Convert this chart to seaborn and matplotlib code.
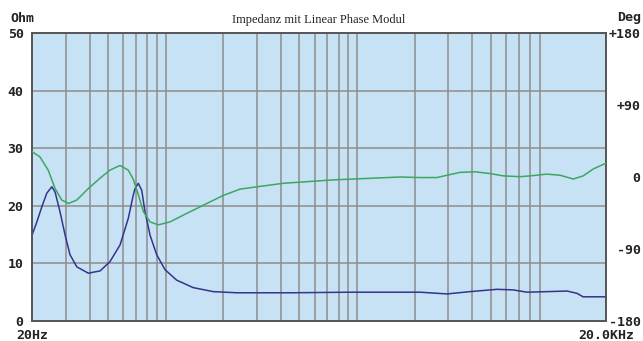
import numpy as np
import pandas as pd
import matplotlib
matplotlib.use("Agg")
import matplotlib.pyplot as plt
from matplotlib.ticker import NullFormatter
import seaborn as sns

# Impedance (Ohm) vs frequency (Hz)
imp_freq = [20, 21.2, 22.5, 23.9, 25.4, 26.4, 28.0, 29.8, 31.6, 34.3, 39.4, 45.4, 51.1,
            57.7, 63.7, 67.7, 69.1, 71.9, 74.9, 77.9, 82.8, 89.7, 99.2, 114, 139, 177,
            235, 450, 920, 1700, 2134, 2953, 3896, 5394, 6536, 7740, 12520, 14120,
            15170, 20000]
imp_ohm = [14.9, 17.2, 19.8, 22.2, 23.3, 22.4, 19.0, 14.9, 11.5, 9.4, 8.3, 8.7, 10.3,
           13.2, 17.8, 21.9, 23.0, 23.9, 22.7, 19.0, 14.9, 11.5, 8.9, 7.1, 5.8, 5.1,
           4.9, 4.9, 5.0, 5.0, 5.0, 4.7, 5.1, 5.5, 5.4, 5.0, 5.2, 4.8, 4.2, 4.2]

# Phase (Deg) vs frequency (Hz)
ph_freq = [20, 22.0, 24.3, 26.4, 28.6, 31.0, 34.3, 39.4, 45.4, 51.1, 57.7, 63.7, 67.7,
           71.9, 76.4, 82.8, 91.4, 105, 129, 157, 200, 245, 410, 750, 1680, 2134,
           2610, 2953, 3454, 4140, 4955, 5816, 7112, 8020, 9808, 11510, 13510, 15200,
           17180, 20000]
ph_deg = [31.7, 25.2, 8.6, -14.4, -28.8, -33.1, -28.8, -14.4, -1.4, 8.6, 14.4, 8.6, -2.9,
          -22.3, -43.2, -56.2, -59.8, -56.2, -45.4, -35.3, -23.0, -15.1, -7.9, -3.6, 0.0,
          -0.7, -0.7, 2.2, 5.8, 6.5, 4.3, 1.4, 0.4, 1.4, 3.6, 2.2, -2.5, 1.4, 10.1, 17.3]

title = "Impedanz mit Linear Phase Modul"
left_ticks = [0, 10, 20, 30, 40, 50]
right_ticks = [-180, -90, 0, 90, 180]
right_labels = ["-180", "-90", "0", "+90", "+180"]
x_ticks = [20, 20000]
x_labels = ["20Hz", "20.0KHz"]

df_imp = pd.DataFrame({"freq": imp_freq, "ohm": imp_ohm})
df_ph = pd.DataFrame({"freq": ph_freq, "deg": ph_deg})

W, H = 643, 341
fig = plt.figure(figsize=(W / 100, H / 100), dpi=100)
ax = fig.add_axes([32 / W, 20 / H, 574 / W, 288 / H])
bg = "#c8e2f5"
ax.set_facecolor(bg)

blue = "#34348c"
green = "#3aa860"
txt = "#222222"
mono = dict(family="DejaVu Sans Mono", weight="bold", size=9.5)

sns.lineplot(data=df_imp, x="freq", y="ohm", ax=ax, color=blue, lw=1.1, zorder=3)
ax.set_xscale("log")
ax.set_xlim(20, 20000)
ax.set_ylim(0, 50)

ax2 = ax.twinx()
sns.lineplot(data=df_ph, x="freq", y="deg", ax=ax2, color=green, lw=1.1, zorder=3)
ax2.set_ylim(-180, 180)
ax2.set_xlim(20, 20000)
ax2.xaxis.set_visible(False)

# grid
grid_x = [m * 10 ** e for e in (1, 2, 3) for m in range(1, 10) if 20 < m * 10 ** e < 20000]
ax.set_xticks(grid_x, minor=True)
ax.xaxis.set_minor_formatter(NullFormatter())
ax.set_xticks(x_ticks)
ax.set_xticklabels(x_labels, fontdict=mono, color=txt)
ax.set_yticks(left_ticks)
ax.set_yticklabels([str(t) for t in left_ticks], fontdict=mono, color=txt)
ax.grid(True, which="both", axis="x", color="#8c8c8c", lw=1.1)
ax.grid(True, which="major", axis="y", color="#8c8c8c", lw=1.1)
ax.set_axisbelow(True)
ax.tick_params(axis="both", which="both", length=0)
ax.tick_params(axis="y", pad=6)
ax.tick_params(axis="x", pad=6)
ax.set_xlabel("")
ax.set_ylabel("")

ax2.set_yticks(right_ticks)
ax2.set_yticklabels(right_labels, fontdict=mono, color=txt)
for lab in ax2.get_yticklabels():
    lab.set_horizontalalignment("right")
ax2.tick_params(axis="y", length=0, pad=25)
ax2.set_ylabel("")

for a in (ax, ax2):
    for s in a.spines.values():
        s.set_color("#555555")
        s.set_linewidth(1.2)

ax.set_title(title, family="Liberation Serif", size=9, pad=7, color=txt)
fig.text(10 / W, 1 - 18 / H, "Ohm", ha="left", va="center", **mono, color=txt)
fig.text(641 / W, 1 - 18 / H, "Deg", ha="right", va="center", **mono, color=txt)

fig.savefig("out.png", dpi=100, facecolor="white")
